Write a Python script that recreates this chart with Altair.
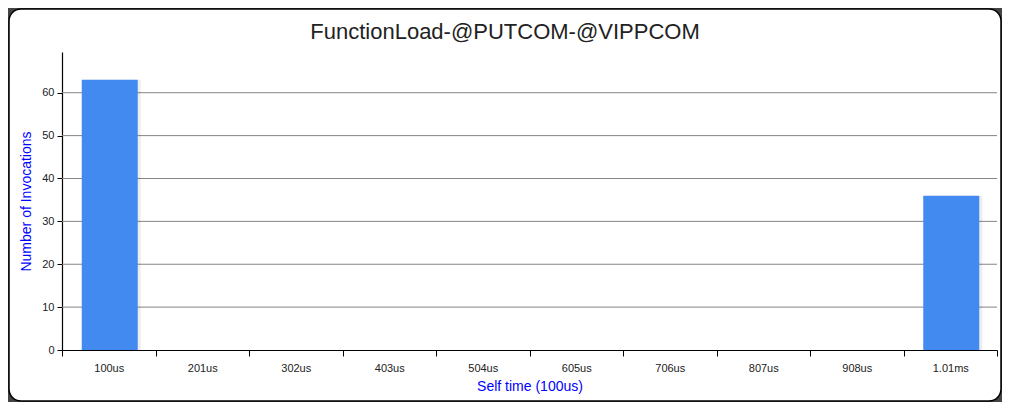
import altair as alt
import pandas as pd

categories = ["100us", "201us", "302us", "403us", "504us", "605us", "706us", "807us", "908us", "1.01ms"]
invocations = [63, 0, 0, 0, 0, 0, 0, 0, 0, 36]
y_ticks = [0, 10, 20, 30, 40, 50, 60]
grid_values = [10, 20, 30, 40, 50, 60]

df = pd.DataFrame({"bucket": categories, "count": invocations})
gdf = pd.DataFrame({"count": grid_values})

FONT = "Arial, Liberation Sans, sans-serif"

X_RANGE = [53, 988]
Y_RANGE = [341, 43]

x_enc = alt.X(
    "bucket:N",
    sort=categories,
    scale=alt.Scale(range=X_RANGE, paddingInner=0, paddingOuter=0),
    axis=alt.Axis(
        title="Self time (100us)",
        titleColor="#0000FF",
        titleFont=FONT,
        titleFontSize=14,
        titleFontWeight="normal",
        titlePadding=6,
        labelAngle=0,
        labelAlign="center",
        labelFont=FONT,
        labelFontSize=11,
        labelColor="#222222",
        labelPadding=12,
        tickBand="extent",
        tickColor="black",
        tickSize=6,
        domainColor="black",
        domainWidth=1.2,
        grid=False,
        offset=-51,
    ),
)

y_scale = alt.Scale(domain=[0, 69.5], nice=False, range=Y_RANGE)

grid = alt.Chart(gdf).mark_rule(color="#858585", strokeWidth=1).encode(
    y=alt.Y("count:Q", scale=y_scale),
    x=alt.value(X_RANGE[0]),
    x2=alt.value(X_RANGE[1]),
)

shadow = alt.Chart(df).mark_bar(
    color="#000000", opacity=0.07, width=56, xOffset=4
).encode(
    x=alt.X("bucket:N", sort=categories),
    y=alt.Y("count:Q"),
)

bars = alt.Chart(df).mark_bar(color="#4289F0", width=56, xOffset=1).encode(
    x=x_enc,
    y=alt.Y(
        "count:Q",
        scale=y_scale,
        axis=alt.Axis(
            title="Number of Invocations",
            titleColor="#0000FF",
            titleFont=FONT,
            titleFontSize=14,
            titleFontWeight="normal",
            titlePadding=8,
            values=y_ticks,
            labelFont=FONT,
            labelFontSize=11,
            labelColor="#222222",
            labelPadding=3,
            tickColor="black",
            tickSize=5,
            domainColor="black",
            domainWidth=1.2,
            grid=False,
            offset=-53,
        ),
    ),
)

chart = alt.layer(grid, shadow, bars).properties(
    width=992,
    height=392,
    padding={"left": 1, "top": 1, "right": 1, "bottom": 1},
    autosize=alt.AutoSizeParams(type="none"),
    background="#444444",
    title=alt.TitleParams(
        "FunctionLoad-@PUTCOM-@VIPPCOM",
        font=FONT,
        fontSize=22,
        fontWeight="normal",
        color="#222222",
        anchor="middle",
        baseline="alphabetic",
        offset=-52,
    ),
).configure_view(
    fill="white", stroke="black", strokeWidth=1.5, cornerRadius=12
)

chart.save("out.html", embed_options={"renderer": "svg", "actions": False})
